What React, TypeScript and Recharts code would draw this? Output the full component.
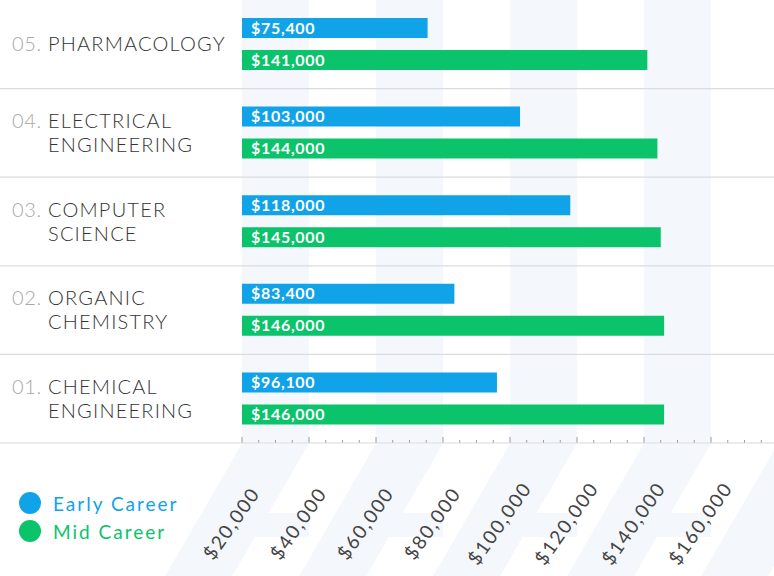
import { BarChart, Bar, XAxis, YAxis, ReferenceArea, LabelList, Legend } from 'recharts';

const RANKS = ['05.', '04.', '03.', '02.', '01.'];
const MAJORS = [
  'PHARMACOLOGY',
  'ELECTRICAL ENGINEERING',
  'COMPUTER SCIENCE',
  'ORGANIC CHEMISTRY',
  'CHEMICAL ENGINEERING',
];
const EARLY_CAREER = [75400, 103000, 118000, 83400, 96100];
const MID_CAREER = [141000, 144000, 145000, 146000, 146000];

const LABELED_TICKS = [20000, 40000, 60000, 80000, 100000, 120000, 140000, 160000];
const AXIS_TICKS = [
  20000, 25000, 30000, 35000, 40000, 45000, 50000, 55000,
  60000, 65000, 70000, 75000, 80000, 85000, 90000, 95000,
  100000, 105000, 110000, 115000, 120000, 125000, 130000, 135000,
  140000, 145000, 150000, 155000, 160000, 165000, 170000, 175000, 180000,
];
const SHADED_BANDS = [
  [20000, 40000],
  [60000, 80000],
  [100000, 120000],
  [140000, 160000],
];
const STRIPE_STARTS = [20000, 60000, 100000, 140000, 180000];
const DOMAIN: [number, number] = [20000, 180000];

const BLUE = '#10a3e8';
const GREEN = '#0bc36a';
const SHADE = '#f4f7fb';
const FONT = 'Lato, "Noto Sans", sans-serif';

const CHART_W = 778;
const CHART_H = 576;
const LEFT_W = 242;
const AXIS_H = 133;
const PLOT_W = CHART_W - LEFT_W;
const PLOT_H = CHART_H - AXIS_H;
const ROW_H = PLOT_H / RANKS.length;

const data = RANKS.map((rank, i) => ({
  rank,
  early: EARLY_CAREER[i],
  mid: MID_CAREER[i],
}));

const money = (v: number) => '$' + Number(v).toLocaleString('en-US');

function CategoryTick(props: any) {
  const { y, index } = props;
  const words = MAJORS[index].split(' ');
  const first = words.length > 1 ? y - 5 : y + 7;
  return (
    <g>
      <line x1={0} x2={CHART_W} y1={y + ROW_H / 2} y2={y + ROW_H / 2} stroke="#dcdcdc" strokeWidth={1.2} />
      <text x={12} y={first} fontFamily={FONT} fontSize={20} fontWeight={300} fill="#a8a8a8" letterSpacing={0.6}>
        {RANKS[index]}
      </text>
      {words.map((w, i) => (
        <text
          key={w}
          x={48}
          y={first + i * 24}
          fontFamily={FONT}
          fontSize={20}
          fontWeight={300}
          fill="#333"
          letterSpacing={1.2}
        >
          {w}
        </text>
      ))}
    </g>
  );
}

function ValueTick(props: any) {
  const { x, y, payload } = props;
  const v = payload.value;
  const major = v % 20000 === 0;
  const bandPx = (PLOT_W * 20000) / (DOMAIN[1] - DOMAIN[0]);
  const k = Math.tan(Math.PI / 6);
  const stripes =
    v === DOMAIN[0]
      ? STRIPE_STARTS.map((s) => {
          const a = x + ((s - DOMAIN[0]) * PLOT_W) / (DOMAIN[1] - DOMAIN[0]);
          const top = y + 0.6;
          const y1 = y + 70;
          const y2 = y + 94;
          const yb = y + AXIS_H;
          const pts = [
            [a, top],
            [a + bandPx, top],
            [a + bandPx - k * (y1 - y), y1],
            [a + bandPx, y1],
            [a + bandPx, y2],
            [a + bandPx - k * (y2 - y), y2],
            [a + bandPx - k * (yb - y), yb],
            [a - k * (yb - y), yb],
          ];
          return <polygon key={s} points={pts.map((p) => p.join(',')).join(' ')} fill={SHADE} />;
        })
      : null;
  const lx = x - 11;
  const ly = y + 80;
  return (
    <g>
      {stripes}
      <line x1={x} x2={x} y1={y} y2={y - (major ? 6 : 3)} stroke="#9a9a9a" strokeWidth={1} />
      {major && LABELED_TICKS.includes(v) && (
        <text
          x={lx}
          y={ly}
          transform={`rotate(-55, ${lx}, ${ly})`}
          textAnchor="middle"
          dominantBaseline="central"
          fontFamily={FONT}
          fontSize={19}
          letterSpacing={1.8}
          fill="#444"
        >
          {money(v)}
        </text>
      )}
    </g>
  );
}

function LegendContent(props: any) {
  const { payload } = props;
  return (
    <div>
      {(payload || []).map((p: any) => (
        <div key={p.value} style={{ display: 'flex', alignItems: 'center', height: 28 }}>
          <span
            style={{
              display: 'inline-block',
              width: 22,
              height: 22,
              borderRadius: 11,
              background: p.color,
              marginLeft: 19,
              marginRight: 12,
            }}
          />
          <span style={{ color: p.color, fontFamily: FONT, fontSize: 19, letterSpacing: 2 }}>{p.value}</span>
        </div>
      ))}
    </div>
  );
}

export default function App() {
  return (
    <div
      style={{
        position: 'absolute',
        left: 0,
        top: 0,
        width: 774,
        height: 576,
        overflow: 'hidden',
        background: '#fff',
      }}
    >
      <BarChart
        width={CHART_W}
        height={CHART_H}
        data={data}
        layout="vertical"
        margin={{ top: 0, right: 0, bottom: 0, left: 0 }}
        barGap={12}
      >
        {SHADED_BANDS.map(([a, b]) => (
          <ReferenceArea key={a} x1={a} x2={b} fill={SHADE} fillOpacity={1} stroke="none" />
        ))}
        <XAxis
          type="number"
          domain={DOMAIN}
          ticks={AXIS_TICKS}
          interval={0}
          height={AXIS_H}
          axisLine={false}
          tickLine={false}
          tickSize={0}
          tickMargin={0}
          tick={<ValueTick />}
        />
        <YAxis
          type="category"
          dataKey="rank"
          width={LEFT_W}
          axisLine={false}
          tickLine={false}
          tickSize={0}
          tickMargin={0}
          interval={0}
          tick={<CategoryTick />}
        />
        <Legend
          layout="vertical"
          align="center"
          verticalAlign="middle"
          wrapperStyle={{ left: 0, top: 489, width: 240, height: 60 }}
          content={<LegendContent />}
        />
        <Bar dataKey="early" name="Early Career" fill={BLUE} barSize={20} isAnimationActive={false}>
          <LabelList
            dataKey="early"
            position="insideLeft"
            offset={9}
            fill="#fff"
            fontFamily={FONT}
            fontSize={16}
            fontWeight={700}
            letterSpacing={0.7}
            formatter={money}
          />
        </Bar>
        <Bar dataKey="mid" name="Mid Career" fill={GREEN} barSize={20} isAnimationActive={false}>
          <LabelList
            dataKey="mid"
            position="insideLeft"
            offset={9}
            fill="#fff"
            fontFamily={FONT}
            fontSize={16}
            fontWeight={700}
            letterSpacing={0.7}
            formatter={money}
          />
        </Bar>
      </BarChart>
    </div>
  );
}
